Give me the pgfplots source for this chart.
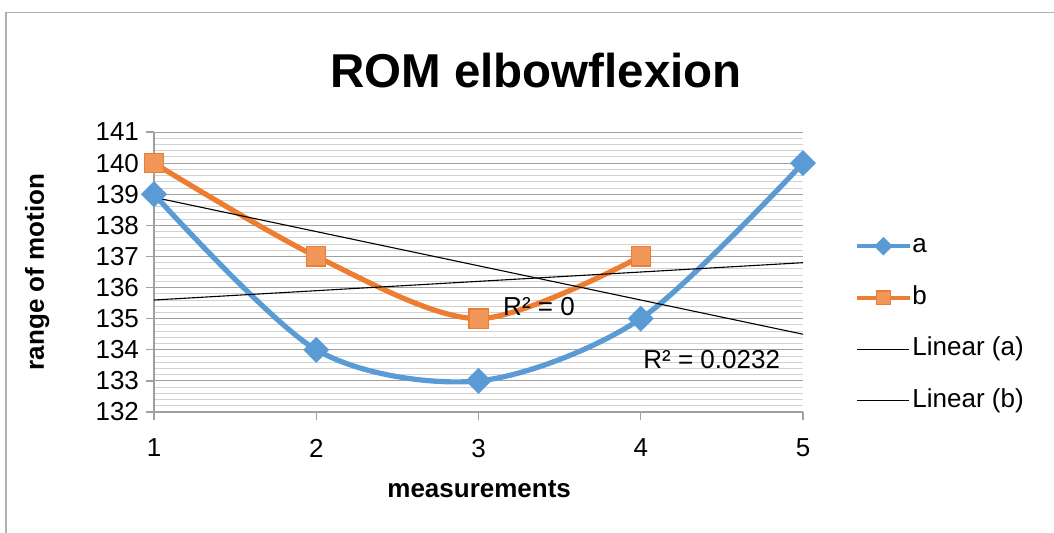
\documentclass[border=0pt]{standalone}
\usepackage{fontspec}
\setmainfont{Liberation Sans}
\usepackage{pgfplots}
\pgfplotsset{compat=1.18}

\definecolor{seriesA}{RGB}{91,155,213}
\definecolor{seriesB}{RGB}{237,125,49}
\definecolor{gridmajor}{RGB}{160,160,160}
\definecolor{gridminor}{RGB}{210,210,210}
\definecolor{chartframe}{RGB}{175,175,175}

\newcommand{\txt}{\fontsize{13}{15.6}\selectfont}

\begin{document}
\begin{tikzpicture}
\useasboundingbox (0,0) rectangle (527pt,266pt);
% chart border (only top and left edges are inside the picture)
\draw[chartframe, line width=0.8pt] (3pt,-5pt) -- (3pt,259.8pt) -- (535pt,259.8pt);
\node[font=\fontsize{23.75}{28}\selectfont\bfseries, anchor=base] at (268pt,222.5pt) {ROM elbowflexion};

\begin{axis}[
    at={(77pt,60pt)}, anchor=south west,
    scale only axis,
    width=324.5pt, height=140pt,
    xmin=1, xmax=5, ymin=132, ymax=141,
    xtick={1,2,3,4,5},
    ytick={132,133,134,135,136,137,138,139,140,141},
    minor y tick num=4,
    axis x line*=bottom, axis y line*=left,
    axis line style={gridmajor, line width=0.6pt, -},
    tick style={gridmajor, line width=0.6pt},
    major tick length=4pt, minor tick length=0pt,
    tick align=outside,
    ymajorgrids, yminorgrids,
    major grid style={gridmajor, line width=0.5pt},
    minor grid style={gridminor, line width=0.5pt},
    ticklabel style={font=\txt},
    xticklabel style={yshift=-6pt},
    /pgf/number format/assume math mode=true,
    xlabel={measurements},
    ylabel={range of motion},
    xlabel style={font=\txt\bfseries, at={(axis description cs:0.501,-0.275)}, anchor=center},
    ylabel style={font=\txt\bfseries, at={(axis description cs:-0.180,0.5)}, anchor=center},
    clip=false,
    legend style={at={(axis description cs:1.071,0.316)}, anchor=west,
        draw=none, fill=none, font=\txt, row sep=13.3pt,
        nodes={inner xsep=0.5pt, inner ysep=0pt, text height=9.5pt, text depth=3pt}},
    legend cell align=left,
    legend image code/.code={
        \draw[#1, line width=2pt, mark repeat=2, mark phase=2,
            every mark/.append style={scale=0.7}]
            plot coordinates {(0pt,0pt) (13pt,0pt) (26pt,0pt)};
    },
]
\addplot[seriesA, line width=2.6pt, smooth, mark=square*, mark size=3.3pt,
    mark options={rotate=45, draw=none, fill=seriesA}] coordinates {
    (1,139) (2,134) (3,133) (4,135) (5,140)
};
\addlegendentry{a}
\addplot[seriesB, line width=2.6pt, smooth, mark=square*, mark size=4.8pt,
    mark options={draw=seriesB, fill=seriesB!80!white, line width=0.6pt}] coordinates {
    (1,140) (2,137) (3,135) (4,137)
};
\addlegendentry{b}
% trendlines
\addplot[black, line width=0.55pt, legend image code/.code={
        \draw[black, line width=0.55pt] (0pt,0pt) -- (26pt,0pt);}] coordinates {(1,135.6) (5,136.8)};
\addlegendentry{Linear (a)}
\addplot[black, line width=0.55pt, legend image code/.code={
        \draw[black, line width=0.55pt] (0pt,0pt) -- (26pt,0pt);}] coordinates {(1,138.9) (5,134.5)};
\addlegendentry{Linear (b)}

\node[anchor=west, font=\txt, inner sep=0pt] at (axis cs:3.15,135.375) {R² = 0};
\node[anchor=west, font=\txt, inner sep=0pt] at (axis cs:4.014,133.70) {R² = 0.0232};
\end{axis}
\end{tikzpicture}
\end{document}
